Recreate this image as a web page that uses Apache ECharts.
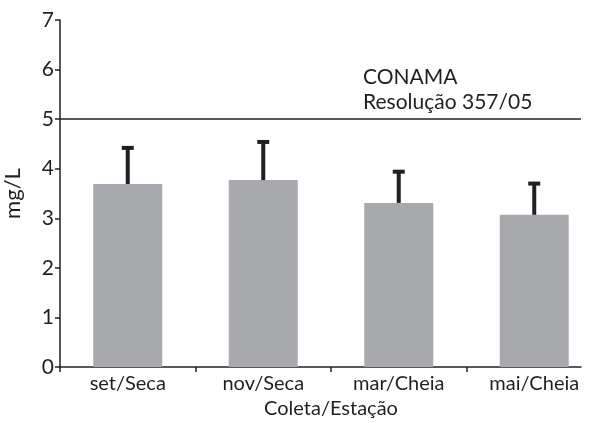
<!DOCTYPE html>
<html>
<head>
<meta charset="utf-8">
<script src="https://cdn.jsdelivr.net/npm/echarts@6/dist/echarts.min.js"></script>
<style>
  html, body { margin: 0; padding: 0; background: #fff; }
  #container { width: 595px; height: 423px; }
</style>
</head>
<body>
<div id="container"></div>
<script>
var coletas = ['set/Seca', 'nov/Seca', 'mar/Cheia', 'mai/Cheia'];
var medias = [3.69, 3.77, 3.31, 3.07];
var desvios = [0.73, 0.77, 0.63, 0.63];
var yTicks = [0, 1, 2, 3, 4, 5, 6, 7];
var limiteConama = 5;

var fonte = 'Lato, "DejaVu Sans", sans-serif';
var preto = '#231f20';

var chartDom = document.getElementById('container');
var myChart = echarts.init(chartDom);
var option;

option = {
    animation: false,
    grid: [
        { left: 60, top: 20, bottom: 56, right: 14, outerBoundsMode: 'none' },
        { left: 60, top: 20, bottom: 56, right: -7, outerBoundsMode: 'none' }
    ],
    graphic: [
        {
            type: 'text',
            left: 363,
            top: 65,
            style: {
                text: 'CONAMA\nResolução 357/05',
                font: '21px ' + fonte,
                fill: preto,
                lineHeight: 25
            }
        }
    ],
    xAxis: [
        {
            gridIndex: 0,
            type: 'value',
            min: 0,
            max: 1,
            axisLine: { show: true, lineStyle: { color: preto, width: 1.5 } },
            axisTick: { show: false },
            axisLabel: { show: false },
            splitLine: { show: false }
        },
        {
            gridIndex: 1,
            type: 'category',
            data: coletas,
            axisLine: { show: false },
            axisTick: { show: true, length: 5, lineStyle: { color: preto, width: 1.5 } },
            axisLabel: {
                margin: 7,
                fontSize: 20,
                fontFamily: fonte,
                color: preto
            },
            name: 'Coleta/Estação',
            nameLocation: 'middle',
            nameGap: 32,
            nameTextStyle: { fontSize: 20, fontFamily: fonte, color: preto }
        }
    ],
    yAxis: [
        {
            gridIndex: 0,
            type: 'value',
            min: yTicks[0],
            max: yTicks[yTicks.length - 1],
            interval: 1,
            axisLine: { show: true, lineStyle: { color: preto, width: 1.5 } },
            axisTick: { show: true, length: 5, lineStyle: { color: preto, width: 1.5 } },
            axisLabel: { margin: 6, fontSize: 21, fontFamily: fonte, color: preto },
            splitLine: { show: false },
            name: 'mg/L',
            nameLocation: 'middle',
            nameGap: 36,
            nameTextStyle: { fontSize: 22, fontFamily: fonte, color: preto }
        },
        {
            gridIndex: 1,
            type: 'value',
            min: yTicks[0],
            max: yTicks[yTicks.length - 1],
            show: false
        }
    ],
    series: [
        {
            type: 'line',
            xAxisIndex: 0,
            yAxisIndex: 0,
            data: [],
            silent: true,
            markLine: {
                symbol: 'none',
                silent: true,
                label: { show: false },
                lineStyle: { color: preto, width: 1.5, type: 'solid' },
                data: [{ yAxis: limiteConama }]
            }
        },
        {
            name: 'Média',
            type: 'bar',
            xAxisIndex: 1,
            yAxisIndex: 1,
            barWidth: 69,
            data: medias,
            itemStyle: { color: '#a7a9ac' }
        },
        {
            name: 'Desvio',
            type: 'custom',
            xAxisIndex: 1,
            yAxisIndex: 1,
            data: medias.map(function (m, i) { return [i, m, m + desvios[i]]; }),
            renderItem: function (params, api) {
                var base = api.coord([api.value(0), api.value(1)]);
                var topo = api.coord([api.value(0), api.value(2)]);
                var meia = 6;
                return {
                    type: 'group',
                    children: [
                        {
                            type: 'line',
                            shape: { x1: base[0], y1: base[1], x2: topo[0], y2: topo[1] },
                            style: { stroke: preto, lineWidth: 4 }
                        },
                        {
                            type: 'line',
                            shape: { x1: topo[0] - meia, y1: topo[1], x2: topo[0] + meia, y2: topo[1] },
                            style: { stroke: preto, lineWidth: 4 }
                        }
                    ]
                };
            },
            z: 5
        }
    ]
};

option && myChart.setOption(option);
</script>
</body>
</html>
